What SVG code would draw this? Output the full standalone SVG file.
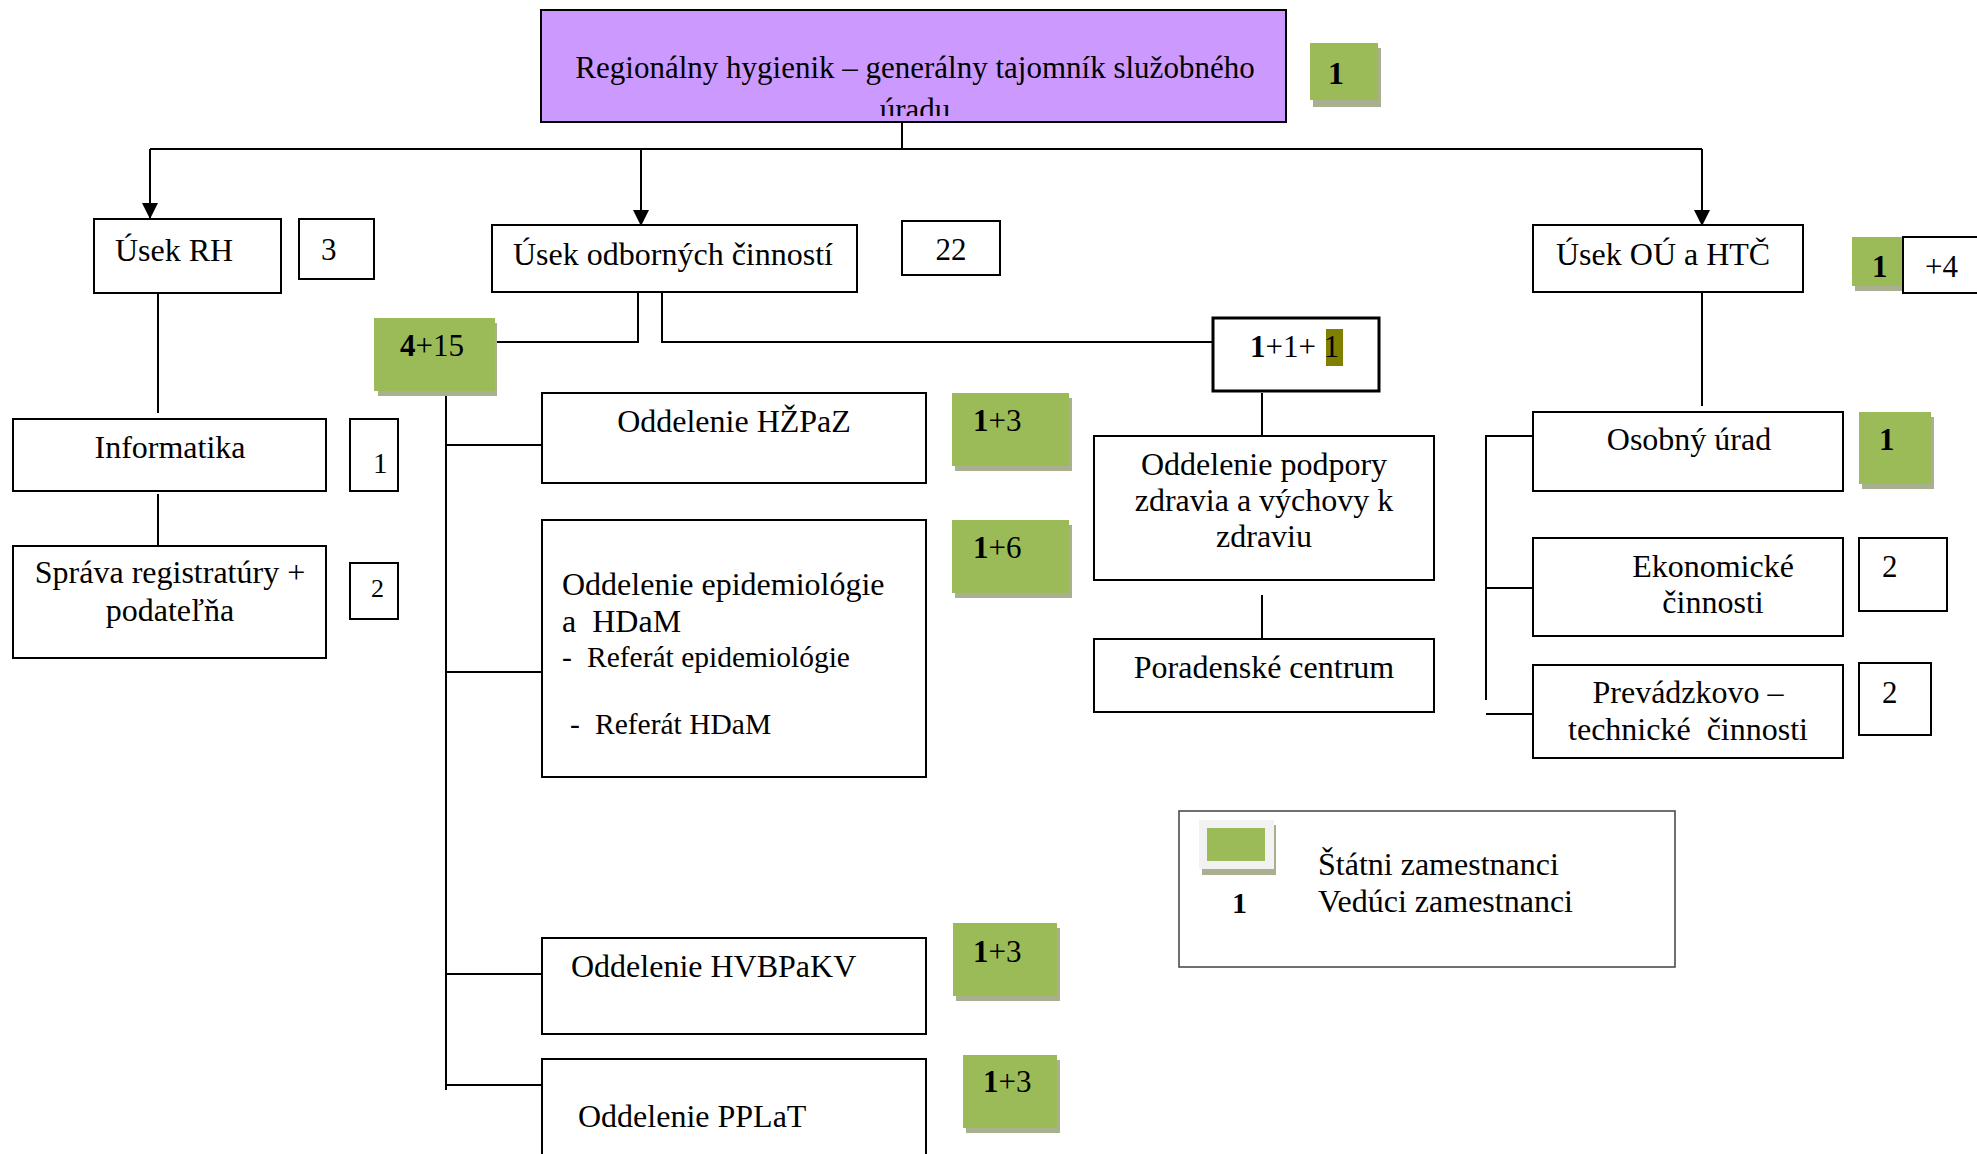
<svg xmlns="http://www.w3.org/2000/svg" width="1977" height="1154" viewBox="0 0 1977 1154">
<style>
.box{fill:#fff;stroke:#000;stroke-width:2}
.t{font-family:"Liberation Serif","Times New Roman",serif;font-size:32px;fill:#000}
.n{font-size:31px}
.s{font-size:29.5px}
.c{text-anchor:middle}
.b{font-weight:bold}
.ln{stroke:#000;stroke-width:2;fill:none}
.g{fill:#9bbb59}
.sh{fill:#a8b090}
</style>
<defs>
<marker id="arr" markerWidth="16" markerHeight="16" refX="16" refY="8" orient="auto" markerUnits="userSpaceOnUse"><path d="M0,0 L16,8 L0,16 z" fill="#000"/></marker>
<clipPath id="topclip"><rect x="542" y="11" width="743" height="105"/></clipPath>
</defs>
<rect width="1977" height="1154" fill="#fff"/>

<g id="connectors">
<path class="ln" d="M902,122 V149"/>
<path class="ln" d="M150,149 H1702"/>
<path class="ln" d="M150,149 V219" marker-end="url(#arr)"/>
<path class="ln" d="M641,149 V226" marker-end="url(#arr)"/>
<path class="ln" d="M1702,149 V226" marker-end="url(#arr)"/>
<path class="ln" d="M158,293 V413"/>
<path class="ln" d="M158,494 V546"/>
<path class="ln" d="M638,292 V342 H493"/>
<path class="ln" d="M662,292 V342 H1213"/>
<path class="ln" d="M446,393 V1090"/>
<path class="ln" d="M446,445 H542"/>
<path class="ln" d="M446,672 H542"/>
<path class="ln" d="M446,974 H542"/>
<path class="ln" d="M446,1085 H542"/>
<path class="ln" d="M1262,393 V442"/>
<path class="ln" d="M1262,595 V643"/>
<path class="ln" d="M1702,292 V406"/>
<path class="ln" d="M1533,436 H1486 V700"/>
<path class="ln" d="M1486,588 H1533"/>
<path class="ln" d="M1486,714 H1533"/>
</g>

<g id="n-top">
<rect x="541" y="10" width="745" height="112" fill="#cc99ff" stroke="#000" stroke-width="2"/>
<g clip-path="url(#topclip)">
<text class="t c" x="915" y="78" style="font-size:31px">Regionálny hygienik – generálny tajomník služobného</text>
<text class="t c" x="915" y="120" style="font-size:31px">úradu</text>
</g>
</g>
<g id="n-top-count">
<rect class="sh" x="1313" y="48" width="68" height="59"/>
<rect class="g" x="1310" y="43" width="68" height="57"/>
<text class="t b" x="1328" y="84" style="font-size:32px">1</text>
</g>

<g id="n-rh">
<rect class="box" x="94" y="219" width="187" height="74"/>
<text class="t" x="115" y="261">Úsek RH</text>
</g>
<g id="n-rh-count">
<rect class="box" x="299" y="219" width="75" height="60"/>
<text class="t n" x="321" y="260">3</text>
</g>

<g id="n-odb">
<rect class="box" x="492" y="225" width="365" height="67"/>
<text class="t" x="513" y="265">Úsek odborných činností</text>
</g>
<g id="n-odb-count">
<rect class="box" x="902" y="221" width="98" height="54"/>
<text class="t n c" x="951" y="260">22</text>
</g>

<g id="n-ou">
<rect class="box" x="1533" y="225" width="270" height="67"/>
<text class="t" x="1556" y="265">Úsek OÚ a HTČ</text>
</g>
<g id="n-ou-count">
<rect class="sh" x="1855" y="242" width="50" height="49"/>
<rect class="g" x="1852" y="237" width="50" height="49"/>
<text class="t n b" x="1872" y="277">1</text>
<rect class="box" x="1903" y="237" width="90" height="56"/>
<text class="t n" x="1925" y="277">+4</text>
</g>

<g id="n-info">
<rect class="box" x="13" y="419" width="313" height="72"/>
<text class="t c" x="170" y="458">Informatika</text>
</g>
<g id="n-info-count">
<rect class="box" x="350" y="419" width="48" height="72"/>
<text class="t" x="373" y="473" style="font-size:29px">1</text>
</g>

<g id="n-sprava">
<rect class="box" x="13" y="546" width="313" height="112"/>
<text class="t c" x="170" y="583">Správa registratúry +</text>
<text class="t c" x="170" y="621">podateľňa</text>
</g>
<g id="n-sprava-count">
<rect class="box" x="350" y="563" width="48" height="56"/>
<text class="t" x="371" y="597" style="font-size:26px">2</text>
</g>

<g id="n-odb-total">
<rect class="sh" x="378" y="323" width="119" height="73"/>
<rect class="g" x="374" y="318" width="121" height="73"/>
<text class="t n" x="400" y="356"><tspan class="b">4</tspan>+15</text>
</g>

<g id="n-hzpaz">
<rect class="box" x="542" y="393" width="384" height="90"/>
<text class="t c" x="734" y="432">Oddelenie HŽPaZ</text>
</g>
<g id="n-hzpaz-count">
<rect class="sh" x="955" y="398" width="117" height="73"/>
<rect class="g" x="952" y="393" width="117" height="73"/>
<text class="t n" x="973" y="431"><tspan class="b">1</tspan>+3</text>
</g>

<g id="n-epid">
<rect class="box" x="542" y="520" width="384" height="257"/>
<text class="t" x="562" y="595">Oddelenie epidemiológie</text>
<text class="t" x="562" y="632" xml:space="preserve">a  HDaM</text>
<text class="t s" x="562" y="667">-</text>
<text class="t s" x="587" y="667">Referát epidemiológie</text>
<text class="t s" x="570" y="734">-</text>
<text class="t s" x="595" y="734">Referát HDaM</text>
</g>
<g id="n-epid-count">
<rect class="sh" x="955" y="525" width="117" height="73"/>
<rect class="g" x="952" y="520" width="117" height="73"/>
<text class="t n" x="973" y="558"><tspan class="b">1</tspan>+6</text>
</g>

<g id="n-hvb">
<rect class="box" x="542" y="938" width="384" height="96"/>
<text class="t" x="571" y="977">Oddelenie HVBPaKV</text>
</g>
<g id="n-hvb-count">
<rect class="sh" x="956" y="928" width="104" height="73"/>
<rect class="g" x="953" y="923" width="104" height="73"/>
<text class="t n" x="973" y="962"><tspan class="b">1</tspan>+3</text>
</g>

<g id="n-pplat">
<rect class="box" x="542" y="1059" width="384" height="120"/>
<text class="t" x="578" y="1127">Oddelenie PPLaT</text>
</g>
<g id="n-pplat-count">
<rect class="sh" x="966" y="1060" width="94" height="73"/>
<rect class="g" x="963" y="1055" width="94" height="73"/>
<text class="t n" x="983" y="1092"><tspan class="b">1</tspan>+3</text>
</g>

<g id="n-podp-count">
<rect x="1213" y="318" width="166" height="73" fill="#fff" stroke="#000" stroke-width="3"/>
<rect x="1326" y="329" width="17" height="37" fill="#808000"/>
<text class="t n" x="1250" y="357" xml:space="preserve"><tspan class="b">1</tspan>+1+ 1</text>
</g>

<g id="n-podpora">
<rect class="box" x="1094" y="436" width="340" height="144"/>
<text class="t c" x="1264" y="475">Oddelenie podpory</text>
<text class="t c" x="1264" y="511">zdravia a výchovy k</text>
<text class="t c" x="1264" y="547">zdraviu</text>
</g>

<g id="n-poradna">
<rect class="box" x="1094" y="639" width="340" height="73"/>
<text class="t c" x="1264" y="678">Poradenské centrum</text>
</g>

<g id="n-osobny">
<rect class="box" x="1533" y="412" width="310" height="79"/>
<text class="t c" x="1689" y="450">Osobný úrad</text>
</g>
<g id="n-osobny-count">
<rect class="sh" x="1862" y="417" width="72" height="72"/>
<rect class="g" x="1859" y="412" width="72" height="72"/>
<text class="t n b" x="1879" y="450">1</text>
</g>

<g id="n-ekon">
<rect class="box" x="1533" y="538" width="310" height="98"/>
<text class="t c" x="1713" y="577">Ekonomické</text>
<text class="t c" x="1713" y="613">činnosti</text>
</g>
<g id="n-ekon-count">
<rect class="box" x="1859" y="538" width="88" height="73"/>
<text class="t n" x="1882" y="577">2</text>
</g>

<g id="n-prev">
<rect class="box" x="1533" y="665" width="310" height="93"/>
<text class="t c" x="1688" y="703">Prevádzkovo –</text>
<text class="t c" x="1688" y="740" xml:space="preserve">technické  činnosti</text>
</g>
<g id="n-prev-count">
<rect class="box" x="1859" y="663" width="72" height="72"/>
<text class="t n" x="1882" y="703">2</text>
</g>

<g id="legend">
<rect x="1179" y="811" width="496" height="156" fill="#fff" stroke="#404040" stroke-width="1.5"/>
<rect x="1202" y="825" width="74" height="50" fill="#a8b090"/>
<rect x="1199" y="820" width="75" height="49" fill="#f2f2f2"/>
<rect x="1207" y="828" width="58" height="33" fill="#9bbb59"/>
<text class="t b" x="1232" y="913" style="font-size:30px">1</text>
<text class="t" x="1318" y="875">Štátni zamestnanci</text>
<text class="t" x="1318" y="912">Vedúci zamestnanci</text>
</g>
</svg>
